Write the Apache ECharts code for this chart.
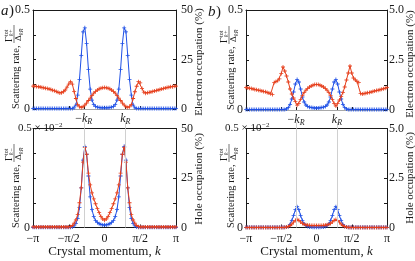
<!DOCTYPE html>
<html><head><meta charset="utf-8">
<script src="https://cdn.jsdelivr.net/npm/echarts@6/dist/echarts.min.js"></script>
<style>html,body{margin:0;padding:0;background:#fff}#c{width:415px;height:261px}</style>
</head><body><div id="c"></div>
<script>
// crystal momentum k in units of pi
const K = [-1,-0.975,-0.95,-0.925,-0.9,-0.875,-0.85,-0.825,-0.8,-0.775,-0.75,-0.725,-0.7,-0.675,-0.65,-0.625,-0.6,-0.575,-0.55,-0.525,-0.5,-0.475,-0.45,-0.425,-0.4,-0.375,-0.35,-0.325,-0.3,-0.275,-0.25,-0.225,-0.2,-0.175,-0.15,-0.125,-0.1,-0.075,-0.05,-0.025,0,0.025,0.05,0.075,0.1,0.125,0.15,0.175,0.2,0.225,0.25,0.275,0.3,0.325,0.35,0.375,0.4,0.425,0.45,0.475,0.5,0.525,0.55,0.575,0.6,0.625,0.65,0.675,0.7,0.725,0.75,0.775,0.8,0.825,0.85,0.875,0.9,0.925,0.95,0.975,1];
const KR = 0.29;

// panel a) top: scattering rate (blue, left axis) and electron occupation % (red, right axis)
const aTopRate = [0.002,0.002,0.002,0.002,0.002,0.002,0.002,0.002,0.002,0.002,0.002,0.002,0.002,0.002,0.002,0.002,0.002,0.002,0.002,0.002,0.002,0.002,
 0.003,0.006,0.02,0.07,0.15,0.27,0.39,0.41,0.33,0.2,0.1,0.045,0.022,0.013,0.009,0.007,0.006,0.006,0.006,0.006,0.006,0.007,0.009,0.013,0.022,0.045,0.1,0.2,0.33,0.41,0.39,0.27,0.15,0.07,0.02,0.006,0.003,
 0.002,0.002,0.002,0.002,0.002,0.002,0.002,0.002,0.002,0.002,0.002,0.002,0.002,0.002,0.002,0.002,0.002,0.002,0.002,0.002,0.002,0.002];
const aTopOcc = [11.6,11.5,11.4,11.2,11.1,10.9,10.7,10.5,10.3,10.1,9.8,9.5,9.2,8.8,8.4,8.1,8.2,8.7,9.6,11.0,12.6,13.8,12.6,8.8,5.3,2.2,1.1,0.8,1.1,2.0,3.0,4.3,5.5,6.8,8.0,8.8,9.6,10.2,10.5,10.7,10.8,
 10.7,10.5,10.2,9.6,8.8,8.0,6.8,5.5,4.3,3.0,2.0,1.1,0.8,1.1,2.2,5.3,8.7,11.5,13.8,13.2,10.4,8.5,8.0,8.2,8.4,8.6,8.9,9.1,9.4,9.6,9.9,10.1,10.4,10.6,10.8,11.0,11.2,11.3,11.5,11.6];

// panel b) top
const bTopRate = [0.002,0.002,0.002,0.002,0.002,0.002,0.002,0.002,0.002,0.002,0.002,0.002,0.002,0.002,0.002,0.002,0.002,0.002,0.002,0.002,0.002,0.002,
 0.003,0.005,0.012,0.028,0.055,0.09,0.13,0.152,0.14,0.105,0.065,0.04,0.025,0.018,0.014,0.012,0.011,0.01,0.01,0.01,0.011,0.012,0.014,0.018,0.025,0.04,0.065,0.105,0.14,0.152,0.13,0.09,0.055,0.028,0.012,0.005,0.003,
 0.002,0.002,0.002,0.002,0.002,0.002,0.002,0.002,0.002,0.002,0.002,0.002,0.002,0.002,0.002,0.002,0.002,0.002,0.002,0.002,0.002,0.002];
const bTopOcc = [1.12,1.10,1.09,1.07,1.05,1.03,1.01,0.99,0.97,0.95,0.93,0.91,0.88,0.85,0.81,0.78,1.38,1.42,1.46,1.56,1.82,2.15,1.95,1.7,1.4,1.05,0.8,0.6,0.42,0.24,0.33,0.52,0.72,0.88,0.99,1.08,1.15,1.2,1.24,1.27,1.28,
 1.27,1.24,1.2,1.15,1.08,0.99,0.88,0.72,0.52,0.33,0.2,0.32,0.5,0.68,0.87,1.15,1.5,1.85,2.2,1.85,1.6,1.5,1.43,1.38,0.82,0.80,0.82,0.84,0.86,0.88,0.90,0.93,0.95,0.97,0.99,1.01,1.04,1.06,1.09,1.12];

// panel a) bottom: scattering rate (x1e-2, blue) and hole occupation % (red)
const aBotRate = [0.001,0.001,0.001,0.001,0.001,0.001,0.001,0.001,0.001,0.001,0.001,0.001,0.001,0.001,0.001,0.001,0.001,0.001,0.001,0.001,0.001,0.001,
 0.003,0.008,0.02,0.045,0.1,0.2,0.34,0.41,0.37,0.26,0.155,0.09,0.055,0.035,0.025,0.019,0.015,0.013,0.012,0.013,0.015,0.019,0.025,0.035,0.055,0.09,0.155,0.26,0.37,0.41,0.34,0.2,0.1,0.045,0.02,0.008,0.003,
 0.001,0.001,0.001,0.001,0.001,0.001,0.001,0.001,0.001,0.001,0.001,0.001,0.001,0.001,0.001,0.001,0.001,0.001,0.001,0.001,0.001,0.001];
const aBotOcc = [0.3,0.3,0.3,0.3,0.3,0.3,0.3,0.3,0.3,0.3,0.3,0.3,0.3,0.3,0.3,0.3,0.3,0.3,0.3,0.3,0.3,
 0.4,1.0,2.2,3.8,6.5,12.5,20,33,40.5,37,27.5,21.5,17.5,14.5,12,9.5,7.5,5.5,4.3,3.7,4.3,5.5,7.5,9.5,12,14.5,17.5,21.5,27.5,37,40.5,33,20,12.5,6.5,3.8,2.2,1.0,0.4,
 0.3,0.3,0.3,0.3,0.3,0.3,0.3,0.3,0.3,0.3,0.3,0.3,0.3,0.3,0.3,0.3,0.3,0.3,0.3,0.3,0.3];

// panel b) bottom
const bBotRate = [0.001,0.001,0.001,0.001,0.001,0.001,0.001,0.001,0.001,0.001,0.001,0.001,0.001,0.001,0.001,0.001,0.001,0.001,0.001,0.001,0.001,0.001,0.001,
 0.002,0.005,0.015,0.035,0.06,0.09,0.105,0.09,0.06,0.035,0.018,0.009,0.005,0.003,0.002,0.0015,0.0015,0.0015,0.0015,0.0015,0.002,0.003,0.005,0.009,0.018,0.035,0.06,0.09,0.105,0.09,0.06,0.035,0.015,0.005,0.002,
 0.001,0.001,0.001,0.001,0.001,0.001,0.001,0.001,0.001,0.001,0.001,0.001,0.001,0.001,0.001,0.001,0.001,0.001,0.001,0.001,0.001,0.001,0.001];
const bBotOcc = [0.005,0.005,0.005,0.005,0.005,0.005,0.005,0.005,0.005,0.005,0.005,0.005,0.005,0.005,0.005,0.005,0.005,0.005,0.005,0.005,0.005,0.005,
 0.01,0.02,0.05,0.1,0.17,0.27,0.36,0.4,0.36,0.28,0.2,0.16,0.135,0.12,0.11,0.105,0.1,0.1,0.1,0.1,0.1,0.105,0.11,0.12,0.135,0.16,0.2,0.28,0.36,0.4,0.36,0.27,0.17,0.1,0.05,0.02,0.01,
 0.005,0.005,0.005,0.005,0.005,0.005,0.005,0.005,0.005,0.005,0.005,0.005,0.005,0.005,0.005,0.005,0.005,0.005,0.005,0.005,0.005,0.005];

// axis ranges and tick labels
const leftMax = [0.5, 0.5, 0.5, 0.5];
const rightMax = [50, 5, 50, 5];
const rightTickText = { 50: ['0', '25', '50'], 5: ['0', '2.5', '5.0'] };
const piTickText = { '-1': '−π', '-0.5': '−π/2', '0': '0', '0.5': 'π/2', '1': 'π' };

const FONT = 'Liberation Serif';
const INK = '#1a1a1a';
const BLUE = '#1f50e6';
const RED = '#e63f1c';
const PLUS = 'path://M4,0H6V4H10V6H6V10H4V6H0V4H4Z';

const grids = [
  { left: 33, top: 10, width: 143, height: 99 },
  { left: 246, top: 10, width: 141, height: 100 },
  { left: 33, top: 128.5, width: 143, height: 99 },
  { left: 246, top: 128.5, width: 141, height: 99 }
];
grids.forEach(g => { g.containLabel = false; g.outerBoundsMode = 'none'; });

const rates = [aTopRate, bTopRate, aBotRate, bBotRate];
const occs = [aTopOcc, bTopOcc, aBotOcc, bBotOcc];

const xAxis = [], yAxis = [], series = [];
for (let g = 0; g < 4; g++) {
  const isTop = g < 2;
  xAxis.push({
    gridIndex: g, type: 'value', min: -1, max: 1, interval: 0.5, position: 'bottom',
    axisLine: { show: true, onZero: false, lineStyle: { color: isTop ? '#a8a8a8' : INK, width: 1 } },
    axisTick: isTop
      ? { show: true, inside: true, length: 3, customValues: [-0.5, -KR, 0, KR, 0.5], lineStyle: { color: INK } }
      : { show: true, inside: true, length: 3, lineStyle: { color: INK } },
    axisLabel: isTop
      ? { show: true, customValues: [-KR, KR], margin: 3, color: INK,
          formatter: v => (v < 0 ? '{m|−}' : '') + '{k|k}{s|R}',
          rich: { m: { fontFamily: FONT, fontSize: 12, color: INK },
                  k: { fontFamily: FONT, fontSize: 12, fontStyle: 'italic', color: INK },
                  s: { fontFamily: FONT, fontSize: 8, fontStyle: 'italic', color: INK, padding: [6, 0, 0, 0] } } }
      : { show: true, margin: 5, color: INK, fontFamily: FONT, fontSize: 12,
          formatter: v => piTickText[String(Math.round(v * 2) / 2)] || '' },
    splitLine: { show: false },
    name: isTop ? '' : '{n|Crystal momentum, }{i|k}',
    nameLocation: 'middle', nameGap: 17,
    nameTextStyle: { rich: { n: { fontFamily: FONT, fontSize: 13, color: INK },
                             i: { fontFamily: FONT, fontSize: 13, fontStyle: 'italic', color: INK } } }
  });
  xAxis.push({
    gridIndex: g, type: 'value', min: -1, max: 1, position: 'top',
    axisLine: { show: true, onZero: false, lineStyle: { color: INK, width: 1 } },
    axisTick: isTop ? { show: false } : { show: true, inside: false, length: 6, customValues: [-KR, KR], lineStyle: { color: '#cfcfcf' } },
    axisLabel: { show: false }, splitLine: { show: false }
  });
  const lm = leftMax[g], rm = rightMax[g];
  yAxis.push({
    gridIndex: g, type: 'value', min: 0, max: lm, interval: lm / 4, position: 'left',
    axisLine: { show: true, onZero: false, lineStyle: { color: INK, width: 1 } },
    axisTick: { show: true, inside: true, length: 3, lineStyle: { color: INK } },
    axisLabel: { show: true, margin: 3, color: INK, fontFamily: FONT, fontSize: 12,
      formatter: v => v === 0 ? '0' : (isTop && Math.abs(v - lm) < 1e-9 ? '0.5' : '') },
    splitLine: { show: false }
  });
  yAxis.push({
    gridIndex: g, type: 'value', min: 0, max: rm, interval: rm / 4, position: 'right',
    axisLine: { show: true, onZero: false, lineStyle: { color: INK, width: 1 } },
    axisTick: { show: true, inside: true, length: 3, lineStyle: { color: INK } },
    axisLabel: { show: true, margin: rm === 5 ? 2 : 5, color: INK, fontFamily: FONT, fontSize: 12,
      formatter: v => { const t = rightTickText[rm]; if (v === 0) return t[0]; if (Math.abs(v - rm / 2) < 1e-9) return t[1]; if (Math.abs(v - rm) < 1e-9) return t[2]; return ''; } },
    splitLine: { show: false }
  });
  if (!isTop) {
    series.push({
      type: 'line', xAxisIndex: 2 * g, yAxisIndex: 2 * g, data: [], z: 1, silent: true,
      markLine: { silent: true, symbol: ['none', 'none'], label: { show: false },
        lineStyle: { color: '#d0d0d0', type: 'solid', width: 1 }, data: [{ xAxis: -KR }, { xAxis: KR }] }
    });
  }
  series.push({
    type: 'line', xAxisIndex: 2 * g, yAxisIndex: 2 * g, z: 3,
    data: K.map((k, i) => [k, rates[g][i]]),
    symbol: PLUS, symbolSize: 4, showSymbol: true, showAllSymbol: true,
    lineStyle: { color: BLUE, width: 1 }, itemStyle: { color: BLUE }
  });
  series.push({
    type: 'line', xAxisIndex: 2 * g, yAxisIndex: 2 * g + 1, z: 4,
    data: K.map((k, i) => [k, occs[g][i]]),
    symbol: PLUS, symbolSize: 4, showSymbol: true, showAllSymbol: true,
    lineStyle: { color: RED, width: 1 }, itemStyle: { color: RED }
  });
}

function txt(x, y, text, size, opt) {
  opt = opt || {};
  return { type: 'text', x: x, y: y, style: Object.assign({ text: text, fontFamily: FONT, fontSize: size, fill: INK,
    textAlign: opt.align || 'left', align: opt.align || 'left', textVerticalAlign: 'middle', verticalAlign: 'middle',
    fontStyle: opt.italic ? 'italic' : 'normal' }, opt.style || {}) };
}
function leftName(cx, by, sign) {
  const L = 66;
  return { type: 'group', x: cx, y: by, rotation: Math.PI / 2, children: [
    txt(0, 0, 'Scattering rate,', 10.5),
    txt(L + 1, -7, 'Γ', 10),
    txt(L + 7, -10, 'tot', 6),
    txt(L + 7, -5, 'k' + sign, 6, { italic: true }),
    { type: 'line', shape: { x1: L, y1: -2, x2: L + 18, y2: -2 }, style: { stroke: INK, lineWidth: 0.6 } },
    txt(L + 2, 3, 'Δ', 9),
    txt(L + 8, 5, 'kR', 6, { italic: true })
  ] };
}
function rightName(cx, cy, text) {
  return { type: 'group', x: cx, y: cy, rotation: Math.PI / 2, children: [ txt(0, 0, text, 11, { align: 'center' }) ] };
}
function sciLabel(x, y) {
  return { type: 'group', x: x, y: y, children: [
    txt(0, 0, '0.5 × 10', 11, { style: { backgroundColor: '#fff', padding: [0, 1, 0, 0] } }),
    txt(37, -3, '−2', 7, { style: { backgroundColor: '#fff', padding: [0, 2, 0, 0] } })
  ] };
}

const graphic = [
  txt(1, 11, 'a', 15, { italic: true }), txt(9, 11, ')', 15),
  txt(208, 12, 'b', 15, { italic: true }), txt(216, 12, ')', 15),
  leftName(16, 109, '+'), leftName(231, 110, '+'),
  leftName(16, 228, '−'), leftName(231, 228, '−'),
  rightName(199, 62, 'Electron occupation (%)'), rightName(410, 64, 'Electron occupation (%)'),
  rightName(199, 179, 'Hole occupation (%)'), rightName(410, 178, 'Hole occupation (%)'),
  sciLabel(18, 128.5), sciLabel(225, 128.5)
];

const chart = echarts.init(document.getElementById('c'), null, { renderer: 'canvas' });
chart.setOption({
  animation: false,
  backgroundColor: '#fff',
  textStyle: { fontFamily: FONT },
  grid: grids, xAxis: xAxis, yAxis: yAxis, series: series, graphic: graphic
});
</script>
</body></html>
